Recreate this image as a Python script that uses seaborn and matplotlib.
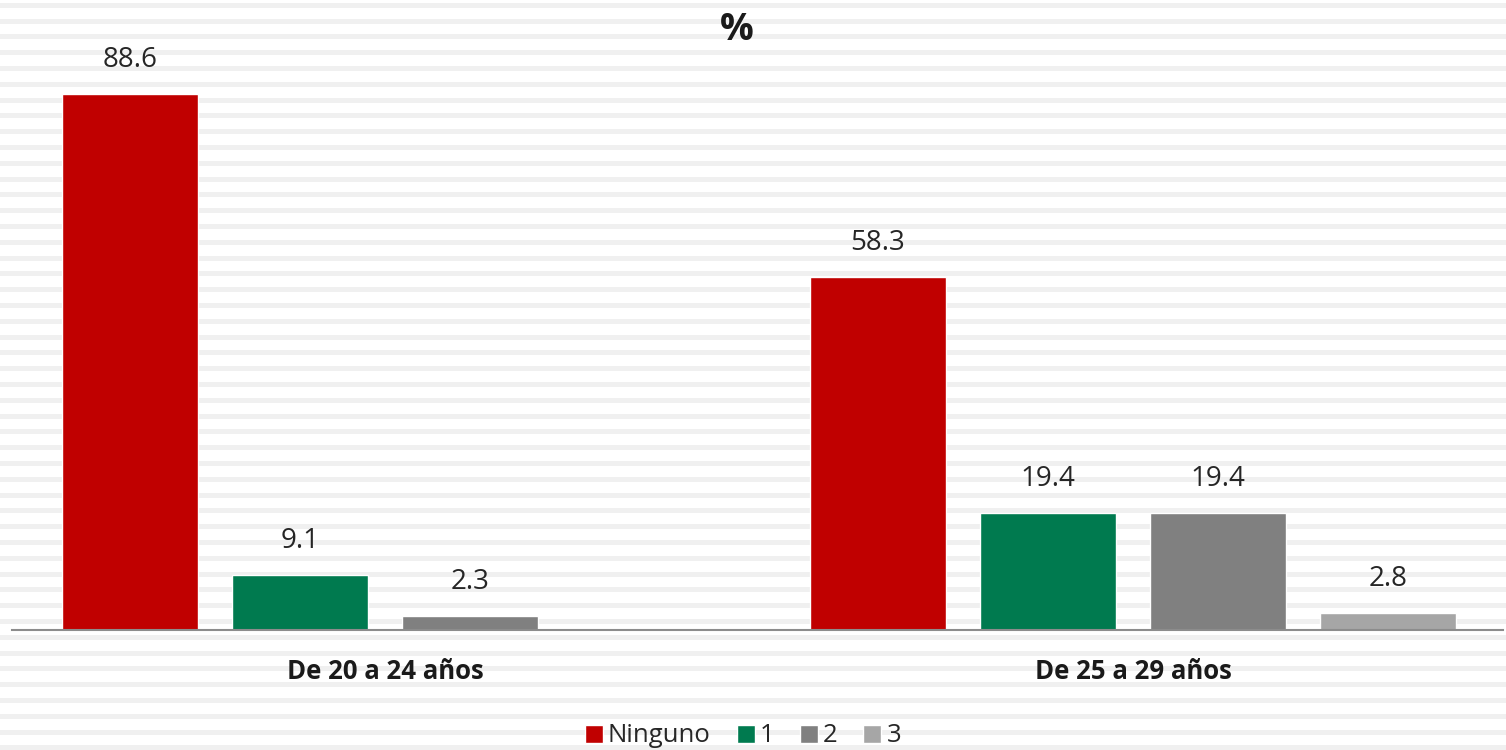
import numpy as np
import pandas as pd
import seaborn as sns
import matplotlib.pyplot as plt
from matplotlib.patches import Patch

# ====== data ======
grupos = ["De 20 a 24 años", "De 25 a 29 años"]
hijos = ["Ninguno", "1", "2", "3"]
valores_20_24 = [88.6, 9.1, 2.3, None]
valores_25_29 = [58.3, 19.4, 19.4, 2.8]
colores = ["#C00000", "#007A4F", "#808080", "#A6A6A6"]

rows = []
for g, vals in zip(grupos, [valores_20_24, valores_25_29]):
    for h, v in zip(hijos, vals):
        if v is not None:
            rows.append({"grupo": g, "hijos": h, "pct": v})
df = pd.DataFrame(rows)

sns.set_style("white")
plt.rcParams["font.family"] = ["Open Sans", "DejaVu Sans"]

fig = plt.figure(figsize=(15.06, 7.5), dpi=100)

# striped background
bg = fig.add_axes([0, 0, 1, 1], zorder=0)
bg.set_xlim(0, 1)
bg.set_ylim(750, 0)
for y0 in np.arange(2.7, 750, 15.8):
    bg.axhspan(y0, y0 + 5, color="#F0F0F0", lw=0)
bg.axis("off")

ax = fig.add_axes([12 / 1506, 120 / 750, (1503 - 12) / 1506, 605 / 750], zorder=1)
ax.patch.set_alpha(0)
sns.barplot(data=df, x="grupo", y="pct", hue="hijos", order=grupos, hue_order=hijos,
            palette=colores, width=0.909, gap=0.2, saturation=1, ax=ax, legend=False)

for cont in ax.containers:
    for bar in cont:
        h = bar.get_height()
        if np.isnan(h):
            continue
        ax.text(bar.get_x() + bar.get_width() / 2, h + 3.3, f"{h:.1f}",
                ha="center", va="bottom", fontsize=20, color="#262626")

ax.set_xlim(-0.4987, 1.4947)
ax.set_ylim(0, 100)
ax.set_xlabel("")
ax.set_ylabel("")
ax.set_yticks([])
ax.tick_params(axis="x", length=0, pad=20)
for lab in ax.get_xticklabels():
    lab.set_fontweight("bold")
    lab.set_fontsize(18.5)
    lab.set_color("#1a1a1a")
for s in ["top", "right", "left"]:
    ax.spines[s].set_visible(False)
ax.spines["bottom"].set_color("#8C8C8C")
ax.spines["bottom"].set_linewidth(1.5)

fig.text(737 / 1506, 1 - 30 / 750, "%", ha="center", va="center",
         fontsize=27, fontweight="bold", color="#1a1a1a")

handles = [Patch(facecolor=c, label=h) for c, h in zip(colores, hijos)]
fig.legend(handles=handles, loc="center", bbox_to_anchor=(743 / 1506, 1 - 736 / 750),
           ncol=4, frameon=False, fontsize=18.5, handlelength=0.7, handleheight=0.7,
           handletextpad=0.2, columnspacing=1.0)

fig.savefig("out.png", dpi=100)
